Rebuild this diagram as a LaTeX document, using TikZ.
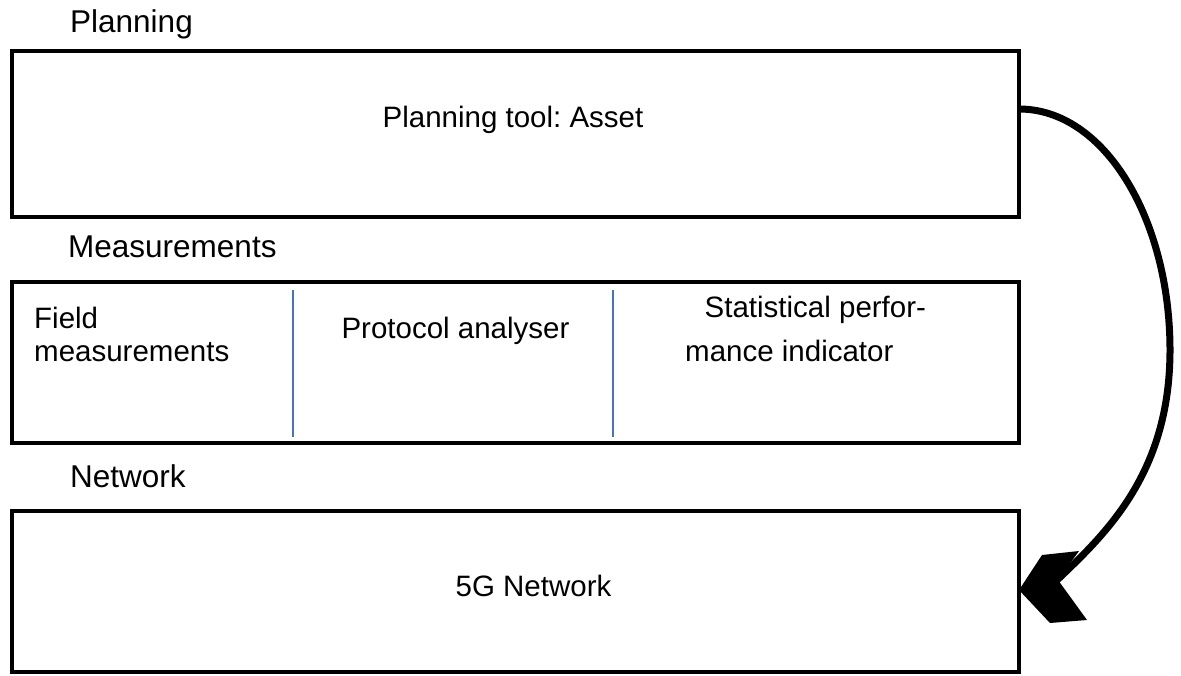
\documentclass[tikz,border=0pt]{standalone}
\usepackage{fontspec}
\setmainfont{Liberation Sans}
\frenchspacing
\definecolor{divblue}{HTML}{4472C4}
\begin{document}
\begin{tikzpicture}[x=1pt,y=-1pt,
  box/.style={draw=black, line width=4.5pt, minimum width=1007pt, inner sep=0pt, outer sep=0pt},
  lbl/.style={inner sep=0pt, font=\fontsize{31.5}{36}\selectfont},
  txt/.style={inner sep=0pt, font=\fontsize{29.5}{33}\selectfont},
  div/.style={draw=divblue, line width=1.5pt},
  flow/.style={line width=7pt},
  headfill/.style={fill=black}]
\useasboundingbox (0,0) rectangle (1181,675);
\node[box, minimum height=166pt] (plan) at (515.5,134) {};
\node[box, minimum height=161pt] (meas) at (515.5,362.5) {};
\node[box, minimum height=161pt] (net) at (515.5,591.5) {};
\draw[div] (293,290) -- (293,437);
\draw[div] (613,290) -- (613,437);
\node[lbl, anchor=base west] (tplan) at (70,32) {Planning};
\node[lbl, anchor=base west] (tmeas) at (68,257) {Measurements};
\node[lbl, anchor=base west] (tnet) at (70,487) {Network};
\node[txt, anchor=base] (asset) at (513,127) {Planning tool: Asset};
\node[txt, anchor=base] (proto) at (455.5,338) {Protocol analyser};
\node[txt, anchor=base] (fiveg) at (533.5,596) {5G Network};
\node[txt, anchor=north west, align=left] (field) at (34,307) {Field\\measurements};
\node[txt, anchor=north west, align=left] (stat) at (685,295.5) {\hspace*{19.5pt}Statistical perfor-\\[11pt]mance indicator};
\coordinate (start) at ([yshift=25pt]plan.east);
\coordinate (tip) at ([yshift=1.5pt]net.east);
\coordinate (notch) at ([shift={(34,-6)}]tip);
\coordinate (far) at (1170,350);
\draw[flow] (start) .. controls (1105,109) and (1170,220) .. (far)
  .. controls (1170,477) and (1102,537) .. (notch);
\fill[headfill, shift={(tip)}] (0,0) -- (23,-35) -- (60,-39) -- (39,-10)
  -- (68,30) -- (31,33) -- cycle;
\end{tikzpicture}
\end{document}
